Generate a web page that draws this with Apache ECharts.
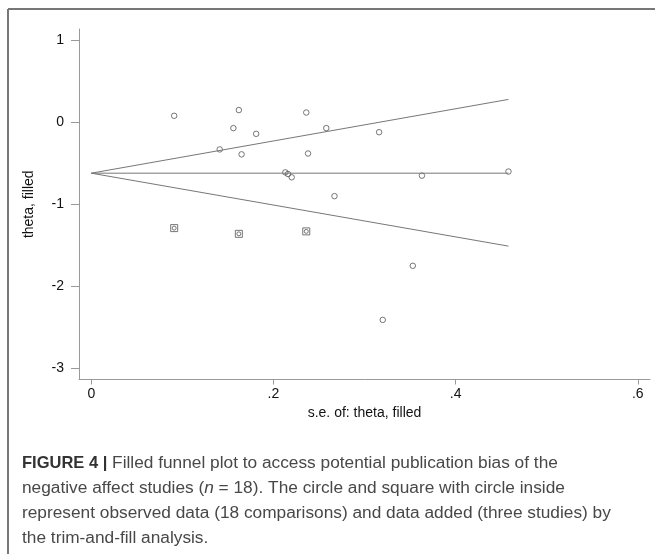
<!DOCTYPE html>
<html>
<head>
<meta charset="utf-8">
<script src="https://cdn.jsdelivr.net/npm/echarts@6/dist/echarts.min.js"></script>
<style>
html,body{margin:0;padding:0;background:#fff;}
#chart{width:655px;height:554px;}
</style>
</head>
<body>
<div id="chart"></div>
<script>
// Observed studies (circles)
const seObserved    = [0.091, 0.162, 0.236, 0.156, 0.181, 0.258, 0.141, 0.165, 0.238, 0.213, 0.216, 0.220, 0.267, 0.316, 0.363, 0.458, 0.353, 0.320];
const thetaObserved = [0.08,  0.15,  0.12, -0.07, -0.14, -0.07, -0.33, -0.39, -0.38, -0.61, -0.63, -0.67, -0.90, -0.12, -0.65, -0.60, -1.75, -2.41];
// Filled (imputed) studies (squares with circle inside)
const seFilled    = [0.091, 0.162, 0.236];
const thetaFilled = [-1.29, -1.36, -1.33];
// Funnel lines (end points)
const funnelSe    = [0, 0.458];
const funnelMid   = [-0.62, -0.62];
const funnelUpper = [-0.62, 0.28];
const funnelLower = [-0.62, -1.51];
// Tick labels
const xTicks = [0, 0.2, 0.4, 0.6];
const xTickLabels = ['0', '.2', '.4', '.6'];
const yTicks = [-3, -2, -1, 0, 1];
const yTickLabels = ['-3', '-2', '-1', '0', '1'];
const xTitle = 's.e. of: theta, filled';
const yTitle = 'theta, filled';
const captionLines = [
  '{b|FIGURE 4 |} Filled funnel plot to access potential publication bias of the',
  'negative affect studies ({i|n} = 18). The circle and square with circle inside',
  'represent observed data (18 comparisons) and data added (three studies) by',
  'the trim-and-fill analysis.'
];

const obs = seObserved.map((s, i) => [s, thetaObserved[i]]);
const fil = seFilled.map((s, i) => [s, thetaFilled[i]]);
const mk = (ys) => funnelSe.map((s, i) => [s, ys[i]]);

const FONT = '"Liberation Sans", Arial, Helvetica, sans-serif';
const markColor = '#555';
const lineColor = '#777';

const chart = echarts.init(document.getElementById('chart'), null, {renderer: 'canvas'});

const captionGraphics = captionLines.map((t, i) => ({
  type: 'text',
  left: 22,
  top: 455 + i * 25,
  style: {
    text: t,
    font: '17.3px ' + FONT,
    fill: '#484848',
    rich: {
      b: {fontWeight: 'bold', fontSize: 16.5, fontFamily: FONT, fill: '#333'},
      i: {fontStyle: 'italic', fontSize: 17.3, fontFamily: FONT, fill: '#484848'}
    }
  }
}));

chart.setOption({
  animation: false,
  backgroundColor: '#fff',
  grid: {left: 79, top: 29, right: 5, bottom: 174.5, containLabel: false},
  xAxis: {
    type: 'value',
    min: -0.0135, max: 0.6134,
    name: xTitle,
    nameLocation: 'middle',
    nameGap: 23,
    nameTextStyle: {fontFamily: FONT, fontSize: 14, color: '#111', verticalAlign: 'top'},
    axisLine: {show: true, onZero: false, lineStyle: {color: '#999', width: 1}},
    axisTick: {show: true, length: 5, customValues: xTicks, lineStyle: {color: '#999'}},
    axisLabel: {
      customValues: xTicks, margin: 8,
      fontFamily: FONT, fontSize: 14, color: '#111',
      formatter: (v) => { const k = xTicks.findIndex(t => Math.abs(t - v) < 1e-9); return k >= 0 ? xTickLabels[k] : ''; }
    },
    splitLine: {show: false}
  },
  yAxis: {
    type: 'value',
    min: -3.137, max: 1.139,
    name: yTitle,
    nameLocation: 'middle',
    nameGap: 43,
    nameTextStyle: {fontFamily: FONT, fontSize: 14, color: '#111'},
    axisLine: {show: true, onZero: false, lineStyle: {color: '#999', width: 1}},
    axisTick: {show: true, length: 8, customValues: yTicks, lineStyle: {color: '#999'}},
    axisLabel: {
      customValues: yTicks, margin: 15,
      fontFamily: FONT, fontSize: 14, color: '#111',
      formatter: (v) => { const k = yTicks.findIndex(t => Math.abs(t - v) < 1e-9); return k >= 0 ? yTickLabels[k] : ''; }
    },
    splitLine: {show: false}
  },
  series: [
    {type: 'line', data: mk(funnelMid), symbol: 'none', lineStyle: {color: lineColor, width: 1}, silent: true},
    {type: 'line', data: mk(funnelUpper), symbol: 'none', lineStyle: {color: lineColor, width: 1}, silent: true},
    {type: 'line', data: mk(funnelLower), symbol: 'none', lineStyle: {color: lineColor, width: 1}, silent: true},
    {type: 'scatter', data: obs, symbol: 'circle', symbolSize: 5.5,
     itemStyle: {color: 'rgba(255,255,255,0)', borderColor: markColor, borderWidth: 1}},
    {type: 'scatter', data: fil, symbol: 'rect', symbolSize: 7,
     itemStyle: {color: 'rgba(255,255,255,0)', borderColor: markColor, borderWidth: 1}},
    {type: 'scatter', data: fil, symbol: 'circle', symbolSize: 4,
     itemStyle: {color: 'rgba(255,255,255,0)', borderColor: markColor, borderWidth: 1}}
  ],
  graphic: [
    {type: 'line', shape: {x1: 8, y1: 9, x2: 655, y2: 9}, style: {stroke: '#777', lineWidth: 2}, silent: true},
    {type: 'line', shape: {x1: 8, y1: 9, x2: 8, y2: 554}, style: {stroke: '#777', lineWidth: 2}, silent: true}
  ].concat(captionGraphics)
});
</script>
</body>
</html>
